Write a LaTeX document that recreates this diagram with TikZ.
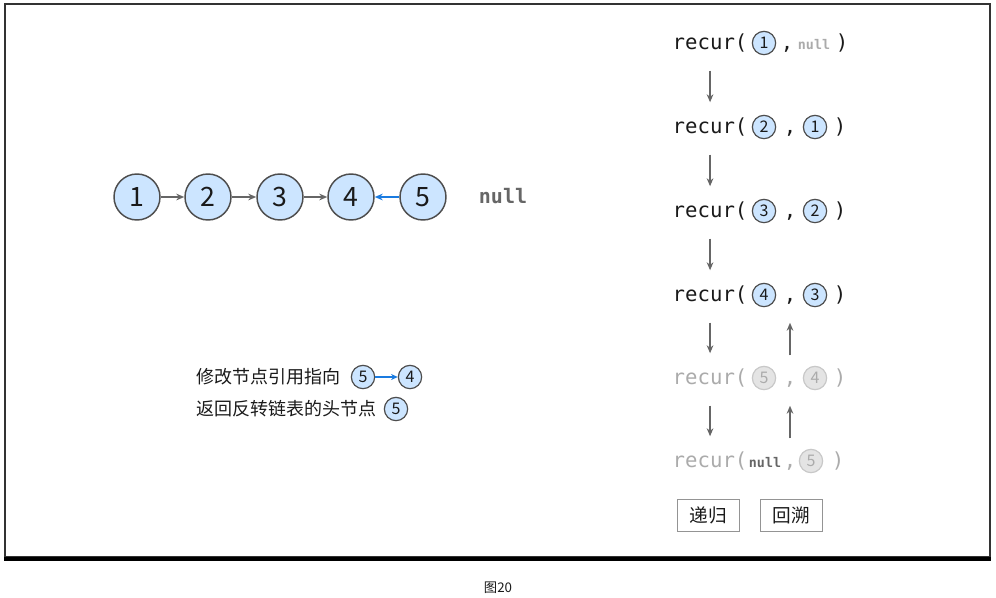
\documentclass[tikz,border=0pt]{standalone}
\usepackage{fontspec}
\setmainfont{Noto Sans CJK SC}
\setmonofont{DejaVu Sans Mono}
\usetikzlibrary{arrows.meta, positioning}
\definecolor{cnode}{HTML}{CCE5FF}
\definecolor{cline}{HTML}{4D4D4D}
\definecolor{carrow}{HTML}{666666}
\definecolor{cblue}{HTML}{1A7BE0}
\definecolor{cfaint}{HTML}{ABABAB}
\definecolor{cfaintfill}{HTML}{E4E4E4}
\definecolor{cfaintline}{HTML}{C8C8C8}
\definecolor{ctext}{HTML}{1A1A1A}
\tikzset{
  every picture/.style={line width=1.1pt},
  lnode/.style={circle, draw=cline, fill=cnode, minimum size=34.5pt, inner sep=0pt, font=\fontsize{20}{24}\selectfont, text=ctext},
  snode/.style={circle, draw=cline, fill=cnode, minimum size=17.5pt, inner sep=0pt, line width=0.9pt, font=\fontsize{12}{14}\selectfont, text=ctext},
  fnode/.style={snode, draw=cfaintline, fill=cfaintfill, text=cfaint},
  code/.style={font=\ttfamily\fontsize{15.5}{18}\selectfont, text=ctext, inner sep=0pt, text height=12pt, text depth=3pt},
  fcode/.style={code, text=cfaint},
  nullword/.style={code, font=\ttfamily\bfseries\fontsize{10}{12}\selectfont, text=carrow},
  arrow/.style={-{Stealth[length=6pt, width=5pt]}, draw=carrow, line width=1.7pt},
  barrow/.style={arrow, draw=cblue},
  cjktext/.style={font=\fontsize{13.5}{16}\selectfont, text=ctext, inner sep=0pt},
  tagbox/.style={draw=carrow!70, line width=0.75pt, minimum width=46.5pt, minimum height=24pt, font=\fontsize{14}{16}\selectfont, text=ctext},
}

\begin{document}
\begin{tikzpicture}[x=0.75pt, y=-0.75pt]
  \useasboundingbox (0,0) rectangle (996,597);
  % frame
  \draw[draw=black!80, line width=1.5pt] (5,4) rectangle (990,557);
  \draw[black, line width=3pt] (4,559) -- (991,559);
  \node[font=\fontsize{10}{12}\selectfont, text=ctext] (cap) at (498,588) {图20};

  % linked list
  \node[lnode] (n1) at (137,197) {1};
  \node[lnode] (n2) at (208,197) {2};
  \node[lnode] (n3) at (280,197) {3};
  \node[lnode] (n4) at (351,197) {4};
  \node[lnode] (n5) at (423,197) {5};
  \node[nullword, font=\ttfamily\bfseries\fontsize{15}{18}\selectfont] (nl) at (503,197) {null};
  \draw[arrow] (n1) -- (n2);
  \draw[arrow] (n2) -- (n3);
  \draw[arrow] (n3) -- (n4);
  \draw[barrow] (n5) -- (n4);

  % legend
  \node[cjktext, anchor=west] (t1) at (196,377) {修改节点引用指向};
  \node[snode] (m5) at (363,377) {5};
  \node[snode] (m4) at (410,377) {4};
  \draw[barrow, line width=1.3pt, -{Stealth[length=5pt, width=4.5pt]}] (m5) -- (m4);
  \node[cjktext, anchor=west] (t2) at (196,409) {返回反转链表的头节点};
  \node[snode] (h5) at (396,409) {5};

  % recursion calls
  \node[code, anchor=west] (r1) at (672,43) {recur(};
  \node[snode] (a1) at (764,43) {1};
  \node[code] (c1) at (787,43) {,};
  \node[nullword, text=cfaint] (b1) at (814,43) {null};
  \node[code] (p1) at (842,43) {)};

  \node[code, anchor=west] (r2) at (672,127) {recur(};
  \node[snode] (a2) at (764,127) {2};
  \node[code] (c2) at (790,127) {,};
  \node[snode] (b2) at (815,127) {1};
  \node[code] (p2) at (840,127) {)};

  \node[code, anchor=west] (r3) at (672,211) {recur(};
  \node[snode] (a3) at (764,211) {3};
  \node[code] (c3) at (790,211) {,};
  \node[snode] (b3) at (815,211) {2};
  \node[code] (p3) at (840,211) {)};

  \node[code, anchor=west] (r4) at (672,295) {recur(};
  \node[snode] (a4) at (764,295) {4};
  \node[code] (c4) at (790,295) {,};
  \node[snode] (b4) at (815,295) {3};
  \node[code] (p4) at (840,295) {)};

  \node[fcode, anchor=west] (r5) at (672,378) {recur(};
  \node[fnode] (a5) at (764,378) {5};
  \node[fcode] (c5) at (790,378) {,};
  \node[fnode] (b5) at (815,378) {4};
  \node[fcode] (p5) at (840,378) {)};

  \node[fcode, anchor=west] (r6) at (672,461) {recur(};
  \node[nullword, text=carrow] (a6) at (765,461) {null};
  \node[fcode] (c6) at (790,461) {,};
  \node[fnode] (b6) at (811,461) {5};
  \node[fcode] (p6) at (838,461) {)};

  \draw[arrow, shorten <=12.75pt, shorten >=10.5pt] (r1) -- (r2);
  \draw[arrow, shorten <=12.75pt, shorten >=10.5pt] (r2) -- (r3);
  \draw[arrow, shorten <=12.75pt, shorten >=10.5pt] (r3) -- (r4);
  \draw[arrow, shorten <=12.75pt, shorten >=10.5pt] (r4) -- (r5);
  \draw[arrow, shorten <=12.75pt, shorten >=10.5pt] (r5) -- (r6);
  \draw[arrow, shorten <=9pt, shorten >=12.75pt] (c5) -- (c4);
  \draw[arrow, shorten <=9pt, shorten >=12.75pt] (c6) -- (c5);

  \node[tagbox] (g1) at (708,515) {递归};
  \node[tagbox] (g2) at (791,515) {回溯};
\end{tikzpicture}
\end{document}
